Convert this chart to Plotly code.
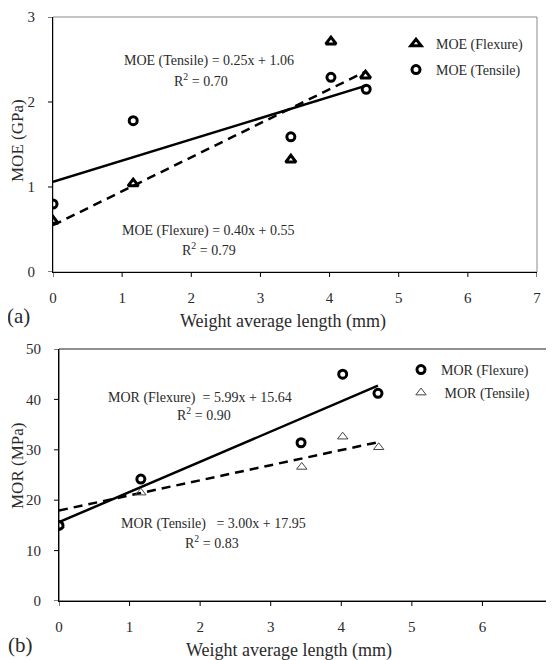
import plotly.graph_objects as go

# ---- data ----
moe_x_flex = [0.0, 1.16, 3.44, 4.02, 4.52]
moe_flex = [0.60, 1.04, 1.32, 2.71, 2.31]
moe_x_tens = [0.0, 1.16, 3.44, 4.02, 4.53]
moe_tens = [0.80, 1.78, 1.59, 2.29, 2.15]
moe_fit_flex = (0.40, 0.55)
moe_fit_tens = (0.25, 1.06)

mor_x_flex = [0.0, 1.16, 3.43, 4.02, 4.52]
mor_flex = [15.0, 24.2, 31.4, 45.0, 41.2]
mor_x_tens = [0.0, 1.16, 3.44, 4.02, 4.53]
mor_tens = [15.0, 21.5, 26.6, 32.6, 30.5]
mor_fit_flex = (5.99, 15.64)
mor_fit_tens = (3.00, 17.95)

x_ticks = [0, 1, 2, 3, 4, 5, 6, 7]
moe_ticks = [0, 1, 2, 3]
mor_ticks = [0, 10, 20, 30, 40, 50]

W, H = 554, 660
OFF = 8  # page body margin in the browser
FONT = "Liberation Serif"
TXT = "#2a2a2a"


def px_x(px):
    return (px - OFF) / W


def px_y(py):
    return (H - (py - OFF)) / H


def fit_line(xs, coef):
    x0, x1 = min(xs), max(xs)
    return [x0, x1], [coef[0] * x0 + coef[1], coef[0] * x1 + coef[1]]


fig = go.Figure()

# Panel (a)
fx, fy = fit_line(moe_x_flex, moe_fit_flex)
fig.add_trace(go.Scatter(x=fx, y=fy, mode="lines", line=dict(color="black", width=2.5, dash="9px,6px"),
                         showlegend=False, xaxis="x", yaxis="y"))
tx, ty = fit_line(moe_x_tens, moe_fit_tens)
fig.add_trace(go.Scatter(x=tx, y=ty, mode="lines", line=dict(color="black", width=2.5),
                         showlegend=False, xaxis="x", yaxis="y"))
fig.add_trace(go.Scatter(x=moe_x_flex, y=moe_flex, mode="markers", name="MOE (Flexure)",
                         marker=dict(symbol="triangle-up-open", size=9, color="black", line=dict(width=3)),
                         xaxis="x", yaxis="y", legend="legend"))
fig.add_trace(go.Scatter(x=moe_x_tens, y=moe_tens, mode="markers", name="MOE (Tensile)",
                         marker=dict(symbol="circle-open", size=8, color="black", line=dict(width=3)),
                         xaxis="x", yaxis="y", legend="legend2"))

# Panel (b)
fx, fy = fit_line(mor_x_flex, mor_fit_flex)
fig.add_trace(go.Scatter(x=fx, y=fy, mode="lines", line=dict(color="black", width=2.5),
                         showlegend=False, xaxis="x2", yaxis="y2"))
tx, ty = fit_line(mor_x_tens, mor_fit_tens)
fig.add_trace(go.Scatter(x=tx, y=ty, mode="lines", line=dict(color="black", width=2.5, dash="9px,6px"),
                         showlegend=False, xaxis="x2", yaxis="y2"))
fig.add_trace(go.Scatter(x=mor_x_tens, y=mor_tens, mode="markers", name=" MOR (Tensile)",
                         marker=dict(symbol="triangle-up-open", size=9, color="#444", line=dict(width=1)),
                         xaxis="x2", yaxis="y2", legend="legend4"))
fig.add_trace(go.Scatter(x=mor_x_flex, y=mor_flex, mode="markers", name="MOR (Flexure)",
                         marker=dict(symbol="circle-open", size=8, color="black", line=dict(width=3)),
                         xaxis="x2", yaxis="y2", legend="legend3"))

# tick marks themselves are drawn as short pixel lines below; axis ticks are
# kept long but transparent so that the labels sit farther from the axis
axis_common = dict(showgrid=False, zeroline=False, showline=True, linecolor="black", linewidth=1,
                   ticks="outside", tickcolor="rgba(0,0,0,0)", automargin=False,
                   tickfont=dict(family=FONT, size=15, color=TXT))

ax_a = [px_x(53), px_x(537)]
ay_a = [px_y(272), px_y(17)]
ax_b = [px_x(59), px_x(553)]
ay_b = [px_y(601), px_y(349)]

leg_common = dict(font=dict(family=FONT, size=14, color=TXT), bgcolor="rgba(0,0,0,0)",
                  xanchor="left", yanchor="middle", itemwidth=30, borderwidth=0)


def legpos(text_x, py):
    return dict(x=px_x(text_x - 40), y=px_y(py), **leg_common)


fig.update_layout(
    width=W, height=H, margin=dict(l=0, r=0, t=0, b=0, autoexpand=False),
    paper_bgcolor="white", plot_bgcolor="white",
    xaxis=dict(domain=ax_a, range=[0, 7], tickvals=x_ticks, anchor="y", ticklen=12, **axis_common),
    yaxis=dict(domain=ay_a, range=[0, 3], tickvals=moe_ticks, anchor="x", ticklen=14, **axis_common),
    xaxis2=dict(domain=ax_b, range=[0, 7], tickvals=x_ticks, anchor="y2", ticklen=12, **axis_common),
    yaxis2=dict(domain=ay_b, range=[0, 50], tickvals=mor_ticks, anchor="x2", ticklen=14, **axis_common),
    legend=legpos(436, 44),
    legend2=legpos(436, 70),
    legend3=legpos(441, 370),
    legend4=legpos(441, 393),
    showlegend=True,
)

# plot frames (top/right)
fig.add_shape(type="rect", xref="x domain", yref="y domain", x0=0, x1=1, y0=0, y1=1,
              line=dict(color="#8a8a8a", width=1), layer="below")
fig.add_shape(type="rect", xref="x2 domain", yref="y2 domain", x0=0, x1=1, y0=0, y1=1,
              line=dict(color="#222", width=1), layer="below")

# visible short tick marks (outside, 5 px)
for xa, ya, yt in (("x", "y", moe_ticks), ("x2", "y2", mor_ticks)):
    for v in x_ticks:
        fig.add_shape(type="line", xref=xa, yref=f"{ya} domain", x0=v, x1=v,
                      ysizemode="pixel", yanchor=0, y0=0, y1=-5, line=dict(color="black", width=1))
    for v in yt:
        fig.add_shape(type="line", yref=ya, xref=f"{xa} domain", y0=v, y1=v,
                      xsizemode="pixel", xanchor=0, x0=0, x1=-5, line=dict(color="black", width=1))


def ann(text, px, py, size=14, **kw):
    fig.add_annotation(text=text, x=px_x(px), y=px_y(py), xref="paper", yref="paper",
                       xanchor="center", yanchor="middle",
                       showarrow=False, font=dict(family=FONT, size=size, color=TXT), **kw)


ann("MOE (Tensile) = 0.25x + 1.06", 209, 61)
ann("R<sup>2</sup> = 0.70", 201, 80)
ann("MOE (Flexure) = 0.40x + 0.55", 208, 231)
ann("R<sup>2</sup> = 0.79", 209, 249)
ann("MOR (Flexure)  = 5.99x + 15.64", 200, 398)
ann("R<sup>2</sup> = 0.90", 204, 414)
ann("MOR (Tensile)   = 3.00x + 17.95", 213, 524)
ann("R<sup>2</sup> = 0.83", 212, 542)

ann("Weight average length (mm)", 283, 322, size=18)
ann("Weight average length (mm)", 289, 650, size=18)
ann("MOE (GPa)", 17, 141, size=17, textangle=-90)
ann("MOR (MPa)", 17, 466, size=17, textangle=-90)
ann("(a)", 18, 316, size=21)
ann("(b)", 20, 645, size=21)

fig.write_html("out.html")
